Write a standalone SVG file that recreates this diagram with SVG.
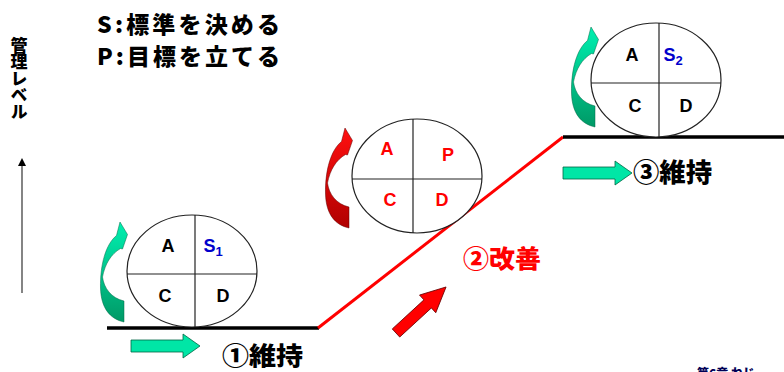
<svg xmlns="http://www.w3.org/2000/svg" xmlns:xlink="http://www.w3.org/1999/xlink" width="784" height="372" viewBox="0 0 784 372">
<defs>
<style>
.jp{font-family:"Noto Sans CJK JP","Noto Sans CJK SC",sans-serif;font-weight:900;}
.lt{font-family:"Liberation Sans Narrow","Liberation Sans",Arial,sans-serif;font-weight:bold;font-size:18px;text-anchor:middle;}
.ell{fill:#fff;stroke:#222;stroke-width:1.2;}
.cross{stroke:#222;stroke-width:1.2;}
.blk{fill:#000;}
.red{fill:#ff0000;}
.blue{fill:#0000cc;}
.ga{fill:#00e6a6;stroke:#006644;stroke-width:0.8;}
</style>
<linearGradient id="gg" x1="0" y1="0" x2="0" y2="1">
<stop offset="0" stop-color="#00f0b0"/>
<stop offset="1" stop-color="#009966"/>
</linearGradient>
<linearGradient id="rg" x1="0" y1="0" x2="0" y2="1">
<stop offset="0" stop-color="#ff1010"/>
<stop offset="1" stop-color="#b00000"/>
</linearGradient>
<path id="curl" d="M 26 100 C 12 97, 3 86, 2.5 66 C 2 42, 8 22, 18.5 13.5 L 22 0 L 29.5 12.5 L 24.5 27 L 22.5 26.5 C 13 32, 7 42, 4.5 55 C 6 66, 13 76, 26 79 Z"/>
<path id="harrow" d="M 0 -6 L 52 -6 L 52 -12 L 69 0 L 52 12 L 52 6 L 0 6 Z"/>
<marker id="ah" markerWidth="8" markerHeight="8" refX="4" refY="4" orient="auto" markerUnits="userSpaceOnUse">
<path d="M0,0 L8,4 L0,8 Z" fill="#000"/>
</marker>
</defs>
<rect width="784" height="372" fill="#fff"/>

<g id="legend">
<text class="jp" x="97" y="33" font-size="23" textLength="183" lengthAdjust="spacing">S:標準を決める</text>
<text class="jp" x="97" y="65" font-size="23" textLength="183" lengthAdjust="spacing">P:目標を立てる</text>
</g>

<g id="axis">
<text class="jp" font-size="17" x="19" y="37" writing-mode="vertical-rl" letter-spacing="-0.5">管理レベル</text>
</g>

<g id="connectors">
<line x1="22" y1="293" x2="22" y2="162" stroke="#333" stroke-width="1.2" marker-end="url(#ah)"/>
<line x1="107" y1="328" x2="319" y2="328" stroke="#000" stroke-width="3.5"/>
<line x1="318" y1="328" x2="563" y2="137" stroke="#ff0000" stroke-width="3"/>
<line x1="563" y1="137" x2="784" y2="137" stroke="#000" stroke-width="3.5"/>
<use xlink:href="#harrow" class="ga" transform="translate(131,346)"/>
<use xlink:href="#harrow" class="ga" transform="translate(563,173)"/>
<path d="M 0 -5.5 L 43 -5.5 L 43 -12 L 68 0 L 43 12 L 43 5.5 L 0 5.5 Z" fill="#ff0000" stroke="#660000" stroke-width="0.8" transform="translate(396,333) rotate(-42.6)"/>
<use xlink:href="#curl" fill="url(#gg)" stroke="#006644" stroke-width="0.5" transform="translate(98,222)"/>
<use xlink:href="#curl" fill="url(#rg)" stroke="#600000" stroke-width="0.5" transform="translate(323,128)"/>
<use xlink:href="#curl" fill="url(#gg)" stroke="#006644" stroke-width="0.5" transform="translate(569,27)"/>
</g>

<g id="pdca1">
<ellipse class="ell" cx="192" cy="271" rx="65" ry="56"/>
<line class="cross" x1="127" y1="274" x2="257" y2="274"/>
<line class="cross" x1="195" y1="215" x2="195" y2="327"/>
<text class="lt blk" x="168" y="252">A</text>
<text class="lt blue" x="213" y="252">S<tspan font-size="13" dy="4">1</tspan></text>
<text class="lt blk" x="165" y="302">C</text>
<text class="lt blk" x="223" y="302">D</text>
</g>

<g id="pdca2">
<ellipse class="ell" cx="417" cy="176" rx="65" ry="57"/>
<line class="cross" x1="352" y1="179" x2="482" y2="179"/>
<line class="cross" x1="413" y1="119" x2="413" y2="233"/>
<text class="lt red" x="387" y="155">A</text>
<text class="lt red" x="448" y="161">P</text>
<text class="lt red" x="390" y="206">C</text>
<text class="lt red" x="442" y="206">D</text>
</g>

<g id="pdca3">
<ellipse class="ell" cx="656" cy="80" rx="65" ry="57"/>
<line class="cross" x1="591" y1="83" x2="721" y2="83"/>
<line class="cross" x1="659" y1="23" x2="659" y2="137"/>
<text class="lt blk" x="632" y="61">A</text>
<text class="lt blue" x="673" y="61">S<tspan font-size="13" dy="4">2</tspan></text>
<text class="lt blk" x="635" y="112">C</text>
<text class="lt blk" x="686" y="112">D</text>
</g>

<g id="labels">
<text class="jp" x="222" y="365" font-size="25" textLength="81" lengthAdjust="spacingAndGlyphs" fill="#000">①維持</text>
<text class="jp" x="463" y="268" font-size="25" textLength="78" lengthAdjust="spacingAndGlyphs" fill="#ff0000">②改善</text>
<text class="jp" x="633" y="182" font-size="26" textLength="79" lengthAdjust="spacingAndGlyphs" fill="#000">③維持</text>
<text class="jp" x="697" y="378" font-size="12" fill="#000055">第6章 ねじ</text>
</g>
</svg>
